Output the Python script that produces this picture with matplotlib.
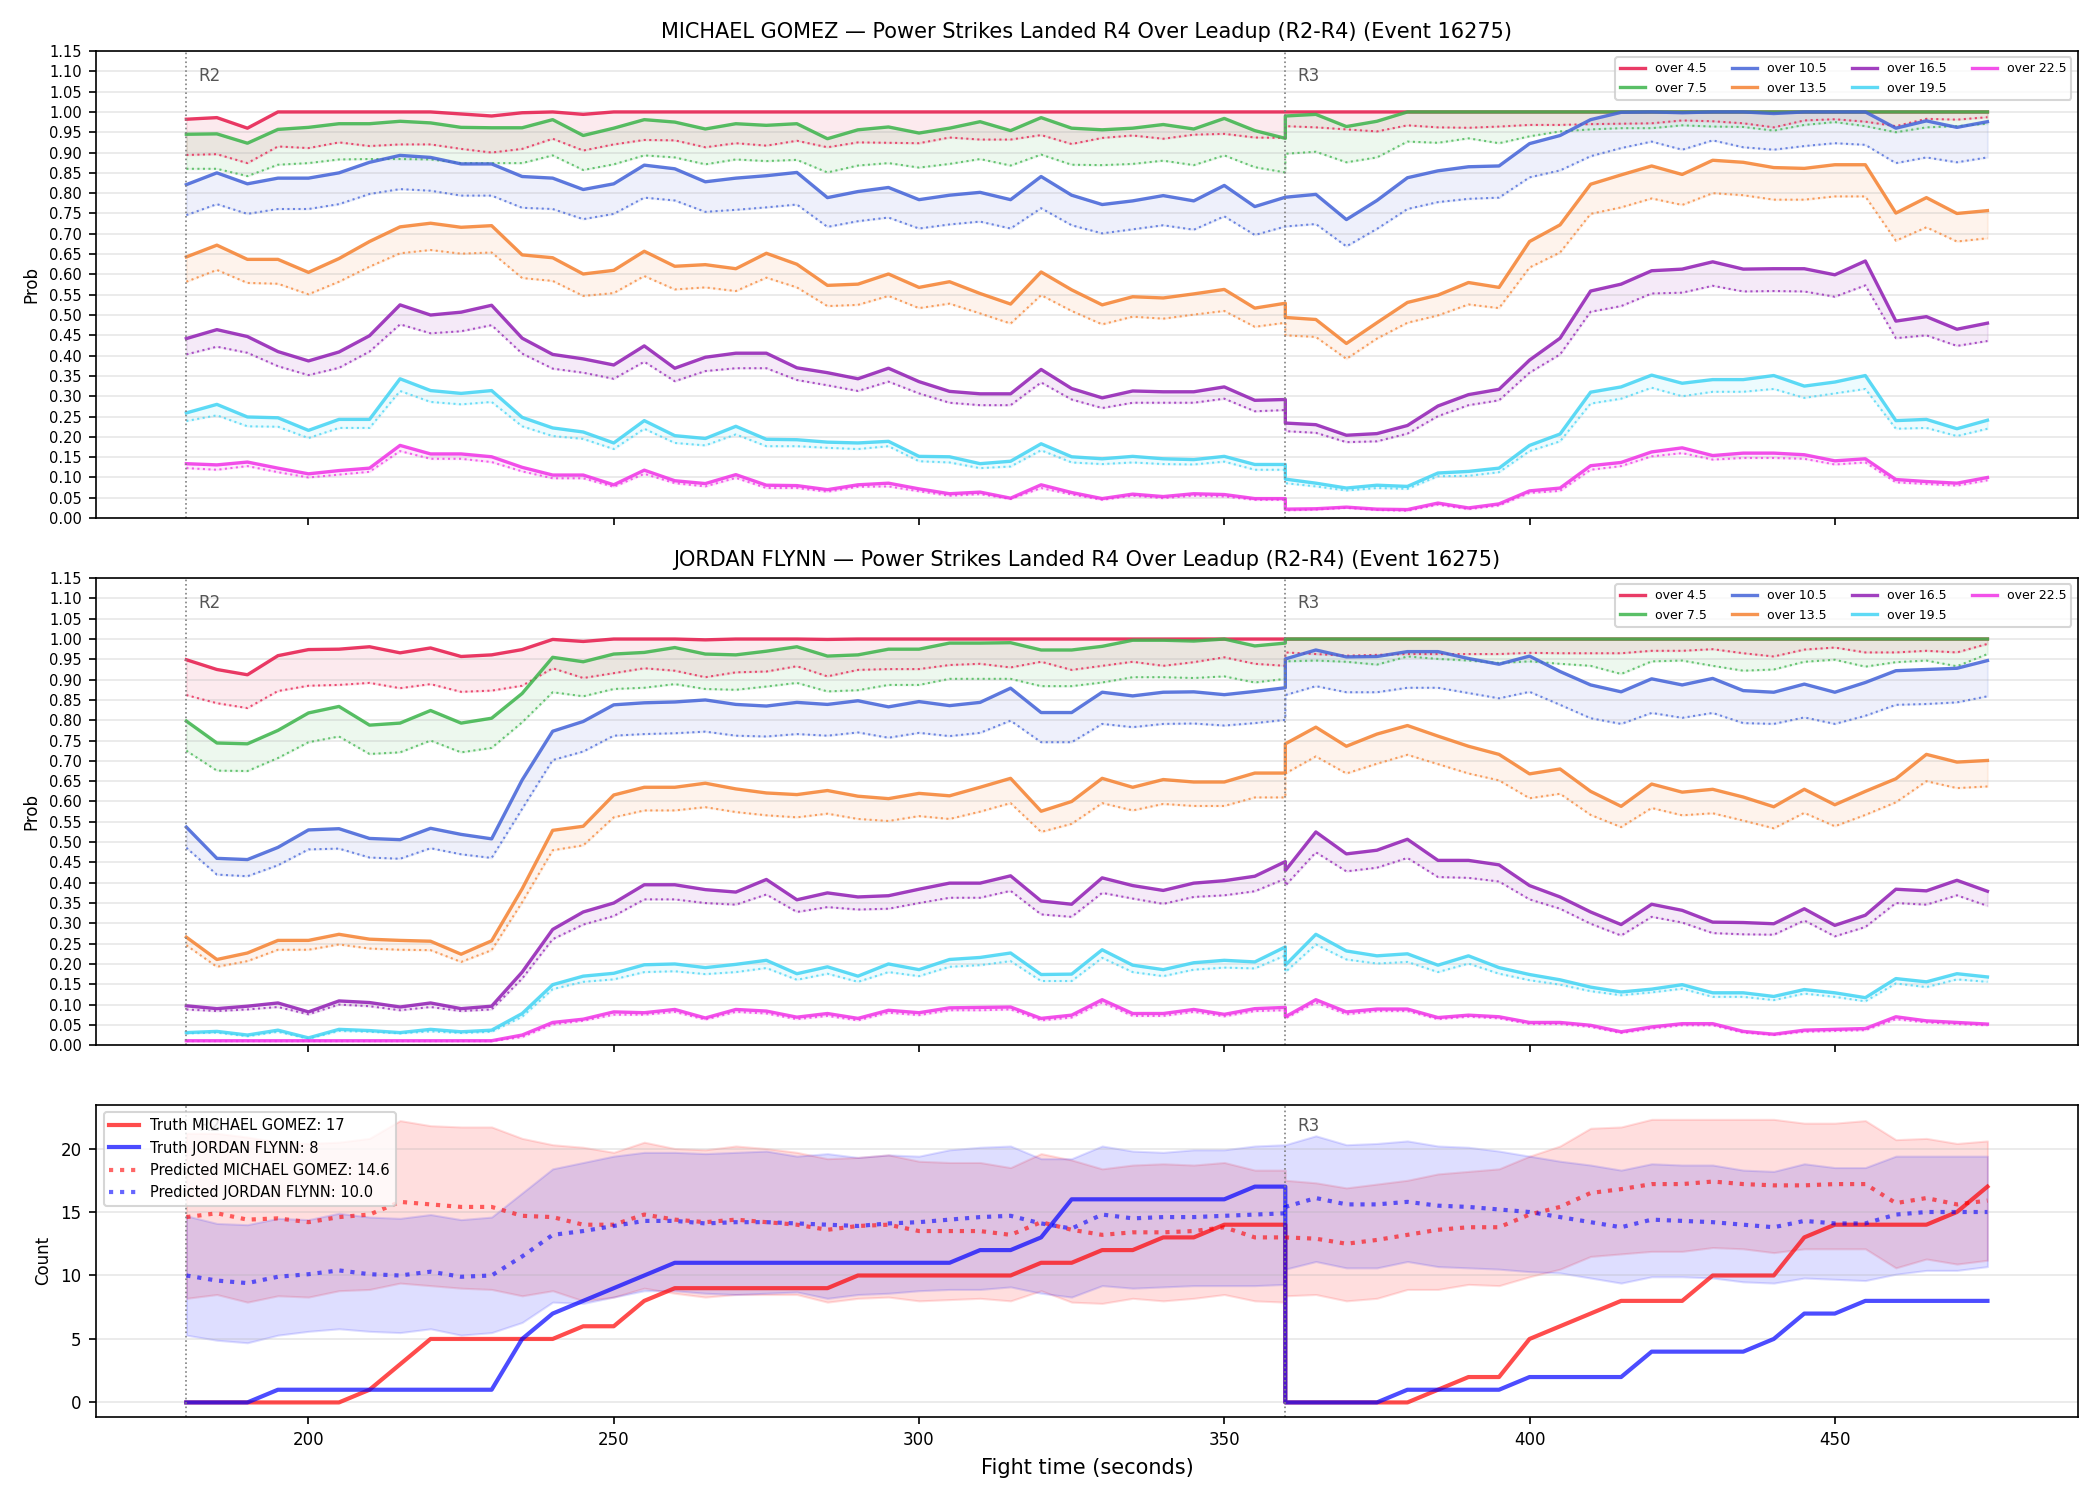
import matplotlib
matplotlib.use("Agg")
import matplotlib.pyplot as plt

# ---------------- time axis (R2: 180..360, R3: 360..475) ----------------
T = list(range(180, 361, 5)) + list(range(360, 476, 5))

THRESH = ["over 4.5", "over 7.5", "over 10.5", "over 13.5", "over 16.5", "over 19.5", "over 22.5"]
COLORS = ["#e6194B", "#3cb44b", "#4363d8", "#f58231", "#911eb4", "#42d4f4", "#f032e6"]

# ---------------- MICHAEL GOMEZ (solid = line, dotted = lower line) ----------------
G45 = [0.982,0.986,0.960,1.0,1.0,1.0,1.0,1.0,1.0,0.995,0.990,0.998,1.0,0.994,1.0,1.0,1.0,1.0,1.0,1.0,1.0,1.0,1.0,1.0,1.0,1.0,
       1.0,1.0,1.0,1.0,1.0,1.0,1.0,1.0,1.0,1.0,1.0,
       1.0,1.0,1.0,1.0,1.0,1.0,1.0,1.0,1.0,1.0,1.0,1.0,1.0,1.0,1.0,1.0,1.0,1.0,1.0,1.0,1.0,1.0,1.0,1.0]
G45d = [0.894,0.896,0.874,0.915,0.911,0.925,0.916,0.920,0.920,0.909,0.900,0.909,0.934,0.905,0.920,0.931,0.930,0.913,0.923,0.917,0.929,0.913,0.925,0.924,0.923,0.937,
        0.932,0.932,0.943,0.921,0.936,0.942,0.934,0.944,0.946,0.937,0.936,
        0.965,0.962,0.957,0.952,0.967,0.962,0.961,0.964,0.968,0.968,0.970,0.971,0.972,0.979,0.977,0.972,0.962,0.979,0.982,0.976,0.965,0.983,0.981,0.987]
G75 = [0.945,0.946,0.923,0.957,0.962,0.971,0.971,0.977,0.973,0.962,0.961,0.961,0.981,0.942,0.960,0.981,0.975,0.958,0.971,0.967,0.971,0.934,0.956,0.963,0.948,0.960,
       0.976,0.954,0.986,0.960,0.956,0.960,0.969,0.958,0.984,0.954,0.935,
       0.990,0.994,0.964,0.977,1.0,1.0,1.0,1.0,1.0,1.0,1.0,1.0,1.0,1.0,1.0,1.0,1.0,1.0,1.0,1.0,1.0,1.0,1.0,1.0]
G75d = [0.860,0.860,0.842,0.870,0.874,0.883,0.884,0.884,0.883,0.874,0.874,0.874,0.893,0.857,0.871,0.893,0.888,0.871,0.883,0.879,0.882,0.851,0.868,0.874,0.863,0.872,
        0.884,0.868,0.895,0.870,0.869,0.872,0.880,0.869,0.893,0.864,0.851,
        0.897,0.902,0.876,0.888,0.927,0.924,0.935,0.923,0.940,0.952,0.957,0.960,0.960,0.967,0.964,0.963,0.954,0.968,0.975,0.965,0.950,0.962,0.965,0.971]
G105 = [0.821,0.850,0.823,0.837,0.837,0.850,0.876,0.893,0.888,0.872,0.872,0.841,0.837,0.809,0.823,0.869,0.860,0.828,0.837,0.843,0.851,0.789,0.804,0.814,0.784,0.795,
        0.802,0.784,0.841,0.795,0.772,0.781,0.794,0.781,0.819,0.767,0.790,
        0.790,0.797,0.735,0.782,0.838,0.855,0.865,0.867,0.922,0.942,0.981,0.999,1.0,0.998,1.0,1.0,0.996,1.0,1.0,1.0,0.960,0.978,0.962,0.976]
G105d = [0.746,0.773,0.749,0.761,0.761,0.773,0.798,0.810,0.806,0.794,0.794,0.764,0.761,0.736,0.749,0.789,0.782,0.754,0.759,0.765,0.772,0.717,0.731,0.740,0.713,0.723,
         0.730,0.713,0.763,0.721,0.701,0.711,0.721,0.710,0.743,0.697,0.718,
         0.718,0.724,0.669,0.712,0.761,0.778,0.786,0.789,0.839,0.856,0.891,0.911,0.927,0.907,0.930,0.913,0.907,0.916,0.923,0.919,0.874,0.888,0.876,0.888]
G135 = [0.643,0.672,0.637,0.637,0.605,0.639,0.681,0.717,0.726,0.716,0.720,0.648,0.641,0.601,0.610,0.657,0.620,0.624,0.614,0.652,0.625,0.573,0.576,0.601,0.568,0.582,
        0.553,0.527,0.606,0.562,0.525,0.545,0.542,0.552,0.563,0.517,0.529,
        0.494,0.489,0.430,0.481,0.531,0.549,0.580,0.568,0.681,0.722,0.822,0.845,0.867,0.846,0.881,0.876,0.863,0.861,0.870,0.870,0.751,0.789,0.750,0.757]
G135d = [0.582,0.611,0.579,0.577,0.551,0.582,0.619,0.652,0.660,0.651,0.654,0.591,0.584,0.547,0.554,0.596,0.563,0.568,0.559,0.592,0.568,0.522,0.525,0.547,0.517,0.528,
         0.504,0.479,0.549,0.510,0.477,0.496,0.491,0.501,0.510,0.471,0.481,
         0.450,0.446,0.392,0.442,0.481,0.499,0.526,0.517,0.617,0.654,0.749,0.765,0.787,0.771,0.800,0.795,0.784,0.784,0.792,0.792,0.683,0.716,0.681,0.689]
G165 = [0.442,0.464,0.447,0.410,0.387,0.409,0.449,0.525,0.500,0.507,0.524,0.443,0.403,0.392,0.377,0.424,0.369,0.396,0.406,0.406,0.370,0.358,0.343,0.369,0.336,0.312,
        0.306,0.306,0.366,0.319,0.296,0.313,0.311,0.311,0.323,0.290,0.292,
        0.234,0.230,0.204,0.208,0.228,0.276,0.304,0.317,0.389,0.443,0.559,0.576,0.609,0.613,0.631,0.613,0.614,0.614,0.599,0.633,0.485,0.496,0.465,0.480]
G165d = [0.403,0.422,0.407,0.374,0.352,0.370,0.410,0.477,0.455,0.460,0.475,0.405,0.368,0.358,0.343,0.385,0.337,0.362,0.369,0.369,0.340,0.327,0.313,0.336,0.307,0.284,
         0.278,0.278,0.334,0.292,0.271,0.284,0.284,0.284,0.294,0.263,0.266,
         0.214,0.210,0.187,0.189,0.208,0.251,0.278,0.290,0.358,0.403,0.508,0.522,0.553,0.555,0.572,0.558,0.559,0.558,0.545,0.573,0.443,0.450,0.424,0.436]
G195 = [0.259,0.280,0.249,0.247,0.216,0.243,0.243,0.343,0.314,0.307,0.314,0.248,0.222,0.212,0.185,0.240,0.203,0.196,0.226,0.194,0.193,0.187,0.185,0.189,0.152,0.151,
        0.134,0.140,0.183,0.151,0.146,0.152,0.146,0.144,0.152,0.132,0.132,
        0.096,0.086,0.074,0.081,0.078,0.111,0.115,0.123,0.179,0.207,0.310,0.323,0.352,0.332,0.341,0.341,0.351,0.325,0.335,0.351,0.240,0.243,0.220,0.241]
G195d = [0.239,0.253,0.226,0.225,0.197,0.222,0.222,0.313,0.286,0.280,0.286,0.226,0.202,0.195,0.170,0.220,0.185,0.179,0.206,0.177,0.177,0.173,0.170,0.177,0.140,0.137,
         0.123,0.127,0.167,0.137,0.133,0.137,0.133,0.132,0.139,0.119,0.119,
         0.086,0.078,0.068,0.074,0.072,0.103,0.104,0.113,0.165,0.189,0.282,0.294,0.321,0.300,0.311,0.311,0.318,0.296,0.307,0.318,0.220,0.222,0.202,0.220]
G225 = [0.134,0.131,0.138,0.123,0.109,0.117,0.123,0.179,0.158,0.158,0.151,0.125,0.106,0.106,0.082,0.118,0.092,0.085,0.107,0.081,0.080,0.070,0.082,0.086,0.072,0.060,
        0.064,0.049,0.082,0.063,0.048,0.059,0.053,0.060,0.058,0.048,0.048,
        0.022,0.023,0.027,0.022,0.021,0.037,0.025,0.035,0.067,0.074,0.129,0.137,0.163,0.173,0.154,0.160,0.160,0.156,0.141,0.146,0.095,0.090,0.086,0.100]
G225d = [0.123,0.119,0.128,0.113,0.100,0.107,0.114,0.165,0.146,0.146,0.138,0.115,0.098,0.098,0.077,0.109,0.086,0.078,0.099,0.074,0.074,0.065,0.077,0.078,0.066,0.055,
         0.059,0.047,0.074,0.058,0.045,0.055,0.049,0.055,0.053,0.045,0.045,
         0.019,0.021,0.025,0.020,0.018,0.033,0.022,0.031,0.062,0.067,0.119,0.128,0.152,0.160,0.144,0.148,0.148,0.146,0.132,0.137,0.088,0.084,0.080,0.093]

# ---------------- JORDAN FLYNN ----------------
F45 = [0.949,0.925,0.912,0.959,0.974,0.975,0.981,0.966,0.978,0.957,0.961,0.974,0.999,0.994,1.0,1.0,1.0,0.998,1.0,1.0,1.0,0.999,1.0,1.0,1.0,1.0,
       1.0,1.0,1.0,1.0,1.0,1.0,1.0,1.0,1.0,1.0,1.0,
       1.0,1.0,1.0,1.0,1.0,1.0,1.0,1.0,1.0,1.0,1.0,1.0,1.0,1.0,1.0,1.0,1.0,1.0,1.0,1.0,1.0,1.0,1.0,1.0]
F45d = [0.862,0.842,0.830,0.872,0.885,0.887,0.892,0.879,0.889,0.870,0.873,0.885,0.928,0.904,0.916,0.928,0.922,0.906,0.918,0.920,0.933,0.908,0.924,0.926,0.926,0.936,
        0.939,0.930,0.944,0.924,0.934,0.944,0.934,0.943,0.955,0.939,0.934,
        0.967,0.963,0.959,0.961,0.963,0.963,0.963,0.963,0.966,0.965,0.965,0.965,0.971,0.971,0.975,0.965,0.957,0.974,0.979,0.967,0.967,0.971,0.967,0.988]
F75 = [0.798,0.744,0.742,0.775,0.818,0.834,0.788,0.793,0.824,0.793,0.805,0.866,0.955,0.944,0.963,0.967,0.979,0.963,0.961,0.970,0.981,0.958,0.961,0.975,0.975,0.990,
       0.990,0.991,0.973,0.973,0.982,0.997,0.997,0.995,1.0,0.983,0.990,
       1.0,1.0,1.0,1.0,1.0,1.0,1.0,1.0,1.0,1.0,1.0,1.0,1.0,1.0,1.0,1.0,1.0,1.0,1.0,1.0,1.0,1.0,1.0,1.0]
F75d = [0.725,0.676,0.675,0.707,0.746,0.760,0.717,0.721,0.750,0.721,0.732,0.795,0.869,0.859,0.877,0.880,0.889,0.877,0.875,0.883,0.892,0.871,0.874,0.887,0.887,0.902,
        0.902,0.902,0.884,0.884,0.893,0.906,0.906,0.904,0.908,0.893,0.902,
        0.945,0.947,0.944,0.937,0.957,0.951,0.947,0.941,0.945,0.939,0.934,0.914,0.945,0.947,0.934,0.922,0.925,0.944,0.949,0.932,0.943,0.947,0.933,0.963]
F105 = [0.537,0.460,0.457,0.487,0.530,0.533,0.509,0.506,0.534,0.519,0.508,0.653,0.773,0.797,0.838,0.843,0.845,0.850,0.839,0.835,0.844,0.839,0.848,0.833,0.846,0.836,
        0.844,0.879,0.819,0.819,0.869,0.860,0.869,0.870,0.863,0.871,0.880,
        0.951,0.973,0.956,0.957,0.969,0.969,0.952,0.938,0.958,0.920,0.887,0.870,0.902,0.887,0.903,0.873,0.869,0.889,0.869,0.893,0.922,0.925,0.928,0.947]
F105d = [0.486,0.420,0.416,0.443,0.482,0.484,0.462,0.459,0.485,0.470,0.461,0.582,0.702,0.723,0.762,0.766,0.768,0.772,0.762,0.760,0.766,0.762,0.770,0.757,0.769,0.761,
         0.769,0.799,0.746,0.746,0.791,0.783,0.791,0.792,0.787,0.793,0.801,
         0.862,0.884,0.869,0.869,0.880,0.880,0.867,0.854,0.870,0.838,0.805,0.791,0.818,0.806,0.818,0.793,0.791,0.807,0.791,0.811,0.838,0.840,0.844,0.859]
F135 = [0.266,0.211,0.227,0.258,0.258,0.273,0.261,0.258,0.256,0.224,0.257,0.385,0.529,0.539,0.616,0.635,0.635,0.645,0.631,0.621,0.617,0.627,0.613,0.607,0.620,0.614,
        0.635,0.657,0.576,0.600,0.657,0.635,0.654,0.648,0.648,0.670,0.670,
        0.742,0.783,0.736,0.766,0.787,0.761,0.736,0.716,0.668,0.680,0.625,0.588,0.643,0.623,0.630,0.611,0.587,0.630,0.592,0.625,0.656,0.716,0.697,0.701]
F135d = [0.246,0.193,0.207,0.235,0.235,0.248,0.238,0.235,0.234,0.205,0.234,0.352,0.480,0.492,0.561,0.578,0.578,0.586,0.574,0.566,0.561,0.570,0.557,0.552,0.564,0.557,
         0.575,0.596,0.525,0.545,0.596,0.578,0.594,0.589,0.589,0.610,0.610,
         0.669,0.711,0.669,0.693,0.715,0.692,0.669,0.652,0.608,0.619,0.567,0.537,0.584,0.566,0.571,0.553,0.534,0.572,0.539,0.567,0.598,0.650,0.633,0.637]
F165 = [0.097,0.090,0.096,0.104,0.082,0.109,0.105,0.094,0.104,0.090,0.096,0.180,0.285,0.328,0.350,0.395,0.395,0.383,0.377,0.408,0.358,0.375,0.365,0.368,0.384,0.399,
        0.399,0.417,0.355,0.347,0.412,0.393,0.381,0.399,0.405,0.416,0.452,
        0.430,0.525,0.471,0.480,0.507,0.455,0.455,0.444,0.393,0.365,0.328,0.297,0.347,0.332,0.303,0.302,0.299,0.336,0.295,0.320,0.384,0.380,0.406,0.379]
F165d = [0.088,0.084,0.088,0.094,0.076,0.100,0.096,0.086,0.094,0.084,0.088,0.164,0.261,0.297,0.318,0.359,0.359,0.350,0.346,0.371,0.328,0.340,0.334,0.336,0.350,0.363,
         0.363,0.380,0.322,0.316,0.375,0.361,0.348,0.365,0.369,0.379,0.410,
         0.393,0.475,0.428,0.437,0.461,0.414,0.412,0.403,0.359,0.336,0.299,0.270,0.316,0.302,0.276,0.273,0.272,0.307,0.268,0.291,0.350,0.346,0.369,0.343]
F195 = [0.031,0.034,0.025,0.037,0.018,0.039,0.036,0.031,0.039,0.033,0.037,0.078,0.149,0.170,0.177,0.198,0.200,0.191,0.199,0.209,0.176,0.193,0.170,0.200,0.186,0.211,
        0.216,0.227,0.174,0.175,0.235,0.197,0.186,0.203,0.209,0.205,0.242,
        0.197,0.273,0.232,0.220,0.225,0.197,0.220,0.191,0.174,0.161,0.143,0.131,0.138,0.149,0.129,0.129,0.120,0.137,0.129,0.117,0.164,0.156,0.176,0.168]
F195d = [0.029,0.031,0.022,0.033,0.016,0.035,0.033,0.029,0.034,0.030,0.033,0.070,0.138,0.156,0.162,0.180,0.182,0.175,0.180,0.190,0.161,0.176,0.156,0.180,0.170,0.193,
         0.197,0.207,0.158,0.158,0.215,0.180,0.170,0.186,0.191,0.189,0.221,
         0.180,0.248,0.211,0.201,0.205,0.180,0.201,0.176,0.160,0.149,0.133,0.123,0.130,0.139,0.119,0.119,0.111,0.127,0.119,0.108,0.152,0.143,0.162,0.156]
F225 = [0.011,0.011,0.011,0.011,0.011,0.011,0.011,0.011,0.011,0.011,0.011,0.025,0.056,0.064,0.082,0.080,0.088,0.067,0.088,0.084,0.069,0.078,0.066,0.086,0.080,0.092,
        0.093,0.094,0.066,0.074,0.112,0.078,0.078,0.088,0.076,0.090,0.093,
        0.070,0.112,0.082,0.089,0.089,0.068,0.074,0.070,0.056,0.056,0.049,0.033,0.045,0.053,0.053,0.034,0.027,0.037,0.039,0.041,0.070,0.060,0.056,0.052]
F225d = [0.010,0.010,0.010,0.010,0.010,0.010,0.010,0.010,0.010,0.010,0.010,0.020,0.051,0.060,0.075,0.075,0.082,0.063,0.082,0.078,0.064,0.072,0.061,0.080,0.074,0.086,
         0.086,0.088,0.061,0.068,0.105,0.072,0.072,0.082,0.071,0.084,0.086,
         0.066,0.105,0.076,0.084,0.084,0.064,0.070,0.066,0.052,0.052,0.045,0.030,0.041,0.049,0.049,0.031,0.025,0.033,0.035,0.037,0.064,0.056,0.052,0.049]

# ---------------- Counts panel ----------------
TRUTH_G = [0,0,0,0,0,0,1,3,5,5,5,5,5,6,6,8,9,9,9,9,9,9,10,10,10,10,10,10,11,11,12,12,13,13,14,14,14,
           0,0,0,0,0,1,2,2,5,6,7,8,8,8,10,10,10,13,14,14,14,14,15,17]
TRUTH_F = [0,0,0,1,1,1,1,1,1,1,1,5,7,8,9,10,11,11,11,11,11,11,11,11,11,11,12,12,13,16,16,16,16,16,16,17,17,
           0,0,0,0,1,1,1,1,2,2,2,2,4,4,4,4,5,7,7,8,8,8,8,8]
PRED_G = [14.6,14.9,14.4,14.5,14.2,14.6,14.8,15.8,15.6,15.4,15.4,14.7,14.6,14.0,14.0,14.8,14.4,14.2,14.4,14.2,14.0,13.6,13.9,14.0,13.5,13.5,
          13.5,13.2,14.2,13.6,13.2,13.4,13.4,13.5,13.8,13.0,13.0,
          13.0,12.9,12.5,12.8,13.2,13.6,13.8,13.8,14.8,15.4,16.5,16.8,17.2,17.2,17.4,17.2,17.1,17.1,17.2,17.2,15.7,16.1,15.6,15.9]
PRED_F = [10.0,9.6,9.4,9.9,10.1,10.4,10.1,10.0,10.3,9.9,10.0,11.5,13.2,13.5,13.9,14.3,14.3,14.1,14.2,14.2,14.1,14.0,13.9,14.1,14.2,14.4,
          14.6,14.7,14.1,13.7,14.8,14.5,14.6,14.6,14.7,14.8,14.9,
          15.4,16.1,15.6,15.6,15.8,15.5,15.4,15.2,15.0,14.6,14.2,13.8,14.4,14.3,14.2,14.0,13.8,14.3,14.1,14.1,14.8,15.0,15.0,15.0]
BAND_G_HI = [21.2,21.2,20.9,20.5,20.4,20.5,20.8,22.2,21.8,21.7,21.7,20.8,20.3,20.1,19.7,20.5,20.0,19.9,20.2,20.0,19.7,19.2,19.3,19.5,19.0,18.9,
             18.9,18.5,19.6,19.1,18.4,18.7,18.8,18.7,18.9,18.3,18.3,
             17.5,17.3,16.9,17.2,17.5,18.0,18.2,18.4,19.4,20.2,21.6,21.7,22.3,22.3,22.3,22.3,22.3,22.0,22.0,22.2,20.7,20.8,20.4,20.6]
BAND_G_LO = [8.2,8.5,7.9,8.4,8.3,8.8,8.9,9.4,9.2,9.0,8.9,8.4,8.8,8.0,8.3,9.0,8.6,8.3,8.5,8.5,8.5,7.9,8.2,8.3,8.0,8.1,
             8.2,8.0,8.8,7.9,7.8,8.2,8.0,8.2,8.5,8.0,7.9,
             8.4,8.5,8.0,8.2,8.9,8.9,9.3,9.2,9.9,10.5,11.5,11.7,11.9,11.9,12.2,12.1,11.8,12.1,12.1,12.1,10.6,11.3,10.9,11.2]
BAND_F_HI = [14.7,14.1,14.0,14.5,14.4,14.9,14.6,14.5,14.8,14.4,14.6,16.5,18.4,18.9,19.4,19.7,19.7,19.6,19.7,19.8,19.4,19.6,19.3,19.5,19.4,19.9,
             20.1,20.2,19.2,19.2,20.2,19.8,19.7,19.9,19.9,20.2,20.3,
             20.3,21.0,20.3,20.4,20.6,20.2,20.1,19.8,19.4,19.0,18.7,18.3,18.8,18.7,18.7,18.3,18.2,18.8,18.5,18.5,19.4,19.4,19.4,19.4]
BAND_F_LO = [5.3,4.9,4.7,5.3,5.6,5.8,5.6,5.5,5.8,5.3,5.5,6.3,7.9,7.8,8.3,8.8,8.8,8.6,8.5,8.6,8.7,8.2,8.5,8.6,8.8,8.9,
             8.9,9.1,8.6,8.3,9.2,9.0,9.1,9.2,9.2,9.2,9.3,
             10.5,11.1,10.6,10.6,11.1,10.7,10.6,10.5,10.3,10.2,9.8,9.4,9.9,9.9,9.8,9.5,9.4,9.8,9.7,9.6,10.1,10.4,10.4,10.7]

ROUND_STARTS = [180, 360]
ROUND_NAMES = ["R2", "R3"]

GOMEZ = [(G45, G45d), (G75, G75d), (G105, G105d), (G135, G135d), (G165, G165d), (G195, G195d), (G225, G225d)]
FLYNN = [(F45, F45d), (F75, F75d), (F105, F105d), (F135, F135d), (F165, F165d), (F195, F195d), (F225, F225d)]

fig, axes = plt.subplots(3, 1, figsize=(14, 10), dpi=150, sharex=True,
                         gridspec_kw={"height_ratios": [1.5, 1.5, 1]})

def prob_panel(ax, series, title):
    for (solid, dotted), name, c in zip(series, THRESH, COLORS):
        ax.plot(T, solid, color=c, lw=1.6, alpha=0.85, label=name)
        ax.plot(T, dotted, color=c, lw=1.0, ls=":", alpha=0.75)
        ax.fill_between(T, dotted, solid, color=c, alpha=0.09)
    ax.set_ylim(0, 1.15)
    ax.set_yticks([i * 0.05 for i in range(24)])
    ax.set_yticklabels([f"{i * 0.05:.2f}" for i in range(24)], fontsize=7)
    ax.set_ylabel("Prob", fontsize=8)
    ax.grid(axis="y", alpha=0.3)
    ax.set_title(title, fontsize=10)
    for x, nm in zip(ROUND_STARTS, ROUND_NAMES):
        ax.axvline(x, color="gray", ls=":", lw=0.8)
        ax.text(x + 2, 1.11, nm, fontsize=8, color="#555555", va="top")
    ax.legend(loc="upper right", ncol=4, fontsize=6)

prob_panel(axes[0], GOMEZ, "MICHAEL GOMEZ \u2014 Power Strikes Landed R4 Over Leadup (R2-R4) (Event 16275)")
prob_panel(axes[1], FLYNN, "JORDAN FLYNN \u2014 Power Strikes Landed R4 Over Leadup (R2-R4) (Event 16275)")

ax = axes[2]
ax.fill_between(T, BAND_G_LO, BAND_G_HI, color="red", alpha=0.13)
ax.fill_between(T, BAND_F_LO, BAND_F_HI, color="blue", alpha=0.13)
ax.plot(T, TRUTH_G, color="red", lw=2, alpha=0.7, label=f"Truth MICHAEL GOMEZ: {TRUTH_G[-1]}")
ax.plot(T, TRUTH_F, color="blue", lw=2, alpha=0.7, label=f"Truth JORDAN FLYNN: {TRUTH_F[-1]}")
ax.plot(T, PRED_G, color="red", lw=2, ls=":", alpha=0.6, label=f"Predicted MICHAEL GOMEZ: {PRED_G[0]:.1f}")
ax.plot(T, PRED_F, color="blue", lw=2, ls=":", alpha=0.6, label=f"Predicted JORDAN FLYNN: {PRED_F[0]:.1f}")
for x, nm in zip(ROUND_STARTS, ROUND_NAMES):
    ax.axvline(x, color="gray", ls=":", lw=0.8)
    ax.text(x + 2, 22.5, nm, fontsize=8, color="#555555", va="top")
ax.set_ylabel("Count", fontsize=8)
ax.set_yticks([0, 5, 10, 15, 20])
ax.tick_params(labelsize=8)
ax.grid(axis="y", alpha=0.3)
leg = ax.legend(loc="upper left", fontsize=7)
leg.set_zorder(10)
ax.set_xlabel("Fight time (seconds)", fontsize=10)

fig.tight_layout()
fig.savefig("out.png", dpi=150)
